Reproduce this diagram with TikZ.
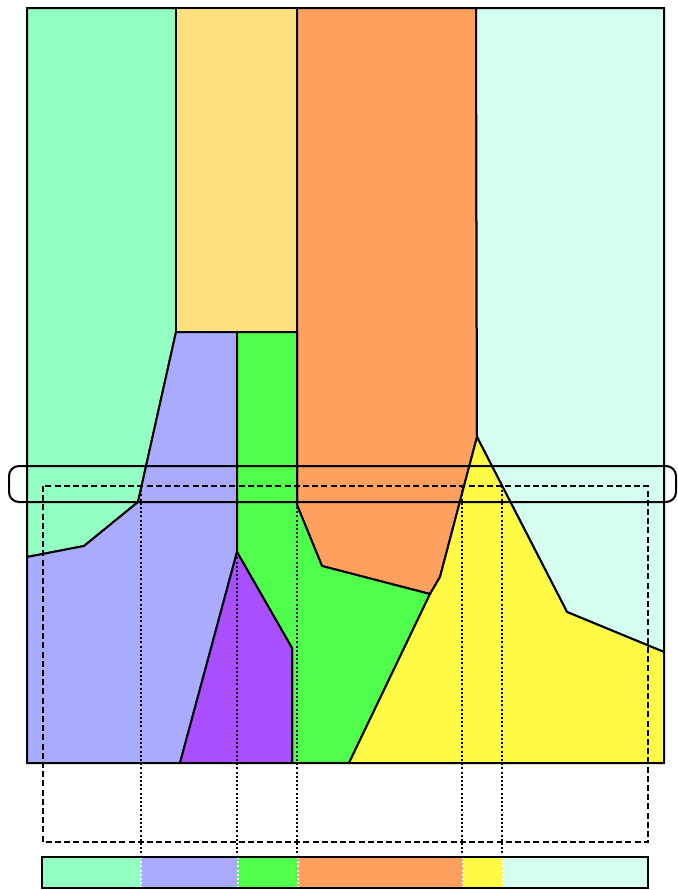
\documentclass[tikz,border=0pt]{standalone}
\usepackage{tikz}
\begin{document}
\begin{tikzpicture}[x=0.5pt,y=-0.5pt]
        \definecolor{regmint}{HTML}{94FFC3}
        \definecolor{regsand}{HTML}{FFE07D}
        \definecolor{regorange}{HTML}{FFA05E}
        \definecolor{regice}{HTML}{D5FFEF}
        \definecolor{reglilac}{HTML}{A9ABFF}
        \definecolor{reggreen}{HTML}{50FF4C}
        \definecolor{regpurple}{HTML}{A94FFF}
        \definecolor{regyellow}{HTML}{FFFB45}
        \tikzset{
            region/.style={draw=black,line width=1pt,line join=round},
            sweep/.style={dash pattern=on 1pt off 1.1pt,line width=0.9pt},
        }
        \useasboundingbox (0,0) rectangle (677,890);
        % regions of the plane
        \fill[regmint,region] (27,8)--(176,8)--(176,332)--(138,502)--(84,546)--(27,557)--cycle;
        \fill[regsand,region] (176,8) rectangle (297,332);
        \fill[regorange,region] (297,8)--(476,8)--(477,437)--(440,577)--(430,594)--(322,566)--(297,505)--cycle;
        \fill[regice,region] (476,8)--(664,8)--(664,652)--(567,612)--(477,437)--cycle;
        \fill[reglilac,region] (176,332)--(237,332)--(237,552)--(180,763)--(27,763)--(27,557)--(84,546)--(138,502)--cycle;
        \fill[reggreen,region] (237,332)--(297,332)--(297,505)--(322,566)--(430,594)--(349,763)--(292,763)--(292,648)--(237,552)--cycle;
        \fill[regpurple,region] (237,552)--(292,648)--(292,763)--(180,763)--cycle;
        \fill[regyellow,region] (477,437)--(567,612)--(664,652)--(664,763)--(349,763)--(430,594)--(440,577)--cycle;
        \draw[line width=1.3pt] (27,8) rectangle (664,763);
        % sweep strip and its window
        \draw[line width=1pt,rounded corners=5pt] (9,466) rectangle (676,502);
        \draw[line width=1pt,dash pattern=on 3pt off 1.6pt] (43,486) rectangle (648,842);
        \foreach \x in {141,237,297,462,502} {
            \draw[sweep] (\x,486)--(\x,857);
        }
        % resulting order on the line
        \fill[regmint] (42,857) rectangle (141,888);
        \fill[reglilac] (141,857) rectangle (238,888);
        \fill[reggreen] (238,857) rectangle (298,888);
        \fill[regorange] (298,857) rectangle (463,888);
        \fill[regyellow] (463,857) rectangle (503,888);
        \fill[regice] (503,857) rectangle (648,888);
        \foreach \x in {141,238,298,463,503} {
            \draw[sweep,white] (\x,857)--(\x,888);
        }
        \draw[line width=1.3pt] (42,857) rectangle (648,888);
    \end{tikzpicture}
\end{document}
